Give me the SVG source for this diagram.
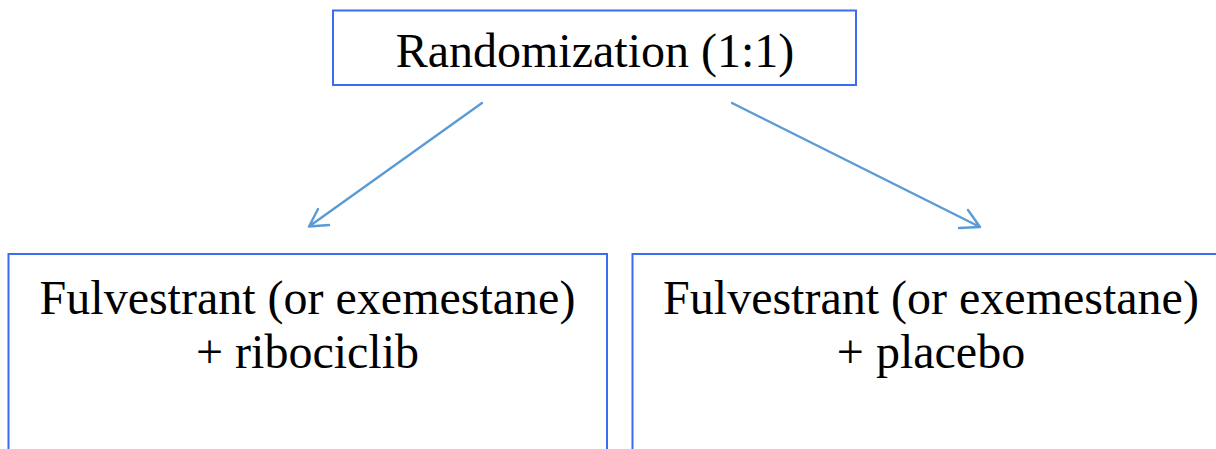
<svg xmlns="http://www.w3.org/2000/svg" width="1216" height="449" viewBox="0 0 1216 449">
<style>
.box{fill:#ffffff;stroke:#3D6BF2;stroke-width:2}
.lbl{font-family:"Liberation Serif","Times New Roman","DejaVu Serif",serif;font-size:48px;fill:#000;text-anchor:middle}
.conn{stroke:#5B9BD5;stroke-width:2.4;fill:none;stroke-linecap:round;stroke-linejoin:round}
</style>
<rect width="1216" height="449" fill="#ffffff"/>
<g id="node-randomization">
<rect class="box" x="333" y="10.5" width="523" height="74.5"/>
<text class="lbl" x="595" y="67">Randomization (1:1)</text>
</g>
<g id="node-ribociclib">
<rect class="box" x="8.5" y="254" width="598.5" height="220"/>
<text class="lbl" x="307.5" y="314">Fulvestrant (or exemestane)</text>
<text class="lbl" x="307.5" y="368">+ ribociclib</text>
</g>
<g id="node-placebo">
<rect class="box" x="632.5" y="254" width="598" height="220"/>
<text class="lbl" x="931" y="314">Fulvestrant (or exemestane)</text>
<text class="lbl" x="931" y="368">+ placebo</text>
</g>
<g id="connectors">
<path class="conn" d="M482,103 L309,226.5 M318,209 L309,226.5 L329,225"/>
<path class="conn" d="M732,103 L980,227 M968,210 L980,227 L959,228"/>
</g>
</svg>
